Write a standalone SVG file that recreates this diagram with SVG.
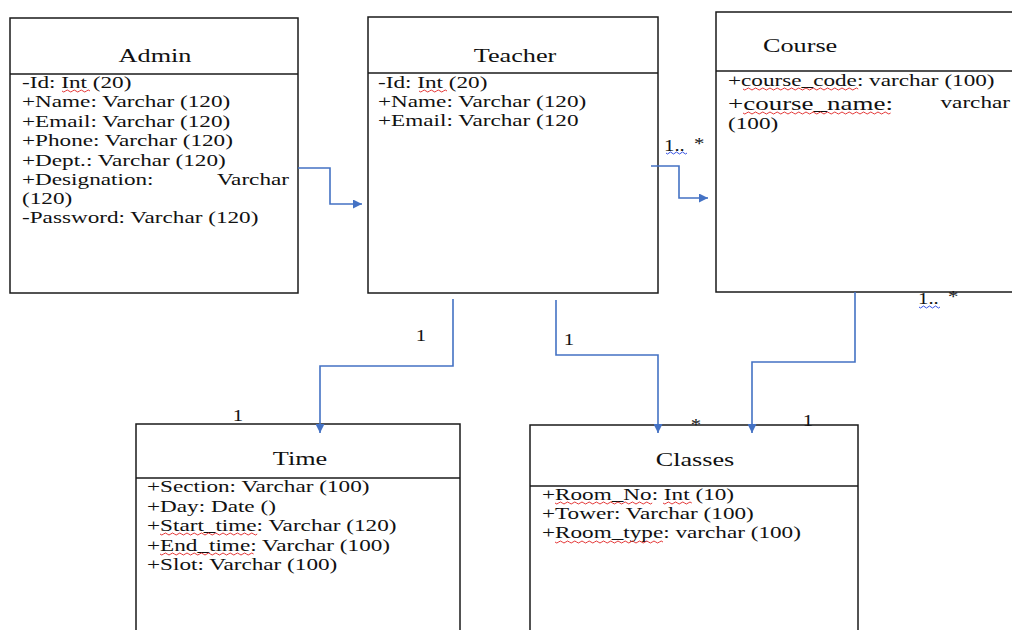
<svg xmlns="http://www.w3.org/2000/svg" width="1012" height="630" viewBox="0 0 1012 630">
  <style>
    .box { fill: #ffffff; stroke: #1a1a1a; stroke-width: 1.5; }
    .div { stroke: #1a1a1a; stroke-width: 1.5; }
    .t { font-family: "Liberation Serif", "Times New Roman", serif; fill: #111111; }
    .ttl { font-size: 19px; text-anchor: middle; }
    .att { font-size: 16px; }
    .lbl { font-size: 16px; text-anchor: middle; }
    .conn { fill: none; stroke: #4472C4; stroke-width: 1.6; marker-end: url(#arrow); }
    .sq { fill: none; stroke: #e02020; stroke-width: 0.9; }
    .sqb { fill: none; stroke: #2040e0; stroke-width: 0.9; }
  </style>
  <defs>
    <marker id="arrow" viewBox="0 0 10 10" refX="10" refY="5" markerWidth="9" markerHeight="9" markerUnits="userSpaceOnUse" orient="auto">
      <path d="M0,0 L10,5 L0,10 z" fill="#4472C4"/>
    </marker>
  </defs>
  <rect width="1012" height="630" fill="#ffffff"/>

  <g id="admin">
    <rect class="box" x="10" y="18" width="288" height="275"/>
    <line class="div" x1="10" y1="74" x2="298" y2="74"/>
    <text class="t ttl" transform="translate(155,62) scale(1.38,1)">Admin</text>
    <text class="t att" transform="translate(22,88) scale(1.45,1)">-Id: Int (20)</text>
    <text class="t att" transform="translate(22,107) scale(1.45,1)">+Name: Varchar (120)</text>
    <text class="t att" transform="translate(22,127) scale(1.45,1)">+Email: Varchar (120)</text>
    <text class="t att" transform="translate(22,146) scale(1.45,1)">+Phone: Varchar (120)</text>
    <text class="t att" transform="translate(22,166) scale(1.45,1)">+Dept.: Varchar (120)</text>
    <text class="t att" transform="translate(22,185) scale(1.45,1)">+Designation:</text>
    <text class="t att" text-anchor="end" transform="translate(289,185) scale(1.45,1)">Varchar</text>
    <text class="t att" transform="translate(22,204) scale(1.45,1)">(120)</text>
    <text class="t att" transform="translate(22,223) scale(1.45,1)">-Password: Varchar (120)</text>
    <path class="sq" d="M62,91 q1.75,2 3.5,0 t3.5,0 t3.5,0 t3.5,0 t3.5,0 t3.5,0 t3.5,0 t3.5,0"/>
  </g>

  <g id="teacher">
    <rect class="box" x="368" y="17" width="290" height="276"/>
    <line class="div" x1="368" y1="73" x2="658" y2="73"/>
    <text class="t ttl" transform="translate(515,62) scale(1.38,1)">Teacher</text>
    <text class="t att" transform="translate(378,88) scale(1.45,1)">-Id: Int (20)</text>
    <text class="t att" transform="translate(378,107) scale(1.45,1)">+Name: Varchar (120)</text>
    <text class="t att" transform="translate(378,126) scale(1.45,1)">+Email: Varchar (120</text>
    <path class="sq" d="M419,91 q1.75,2 3.5,0 t3.5,0 t3.5,0 t3.5,0 t3.5,0 t3.5,0 t3.5,0 t3.5,0"/>
  </g>

  <g id="course">
    <rect class="box" x="716" y="12" width="310" height="280"/>
    <line class="div" x1="716" y1="71" x2="1026" y2="71"/>
    <text class="t" font-size="19" transform="translate(763,52) scale(1.38,1)">Course</text>
    <text class="t att" transform="translate(728,86) scale(1.45,1)">+course_code: varchar (100)</text>
    <text class="t" font-size="18.6" transform="translate(728,110) scale(1.45,1)">+course_name:</text>
    <text class="t" font-size="16" text-anchor="end" transform="translate(1010,108) scale(1.45,1)">varchar</text>
    <text class="t att" transform="translate(728,129) scale(1.45,1)">(100)</text>
    <path class="sq" d="M743,89 q1.8,2 3.6,0 t3.6,0 t3.6,0 t3.6,0 t3.6,0 t3.6,0 t3.6,0 t3.6,0 t3.6,0 t3.6,0 t3.6,0 t3.6,0 t3.6,0 t3.6,0 t3.6,0 t3.6,0 t3.6,0 t3.6,0 t3.6,0 t3.6,0 t3.6,0 t3.6,0 t3.6,0 t3.6,0 t3.6,0 t3.6,0 t3.6,0 t3.6,0 t3.6,0 t3.6,0 t3.6,0 t3.6,0"/>
    <path class="sq" d="M743,113 q1.8,2 3.6,0 t3.6,0 t3.6,0 t3.6,0 t3.6,0 t3.6,0 t3.6,0 t3.6,0 t3.6,0 t3.6,0 t3.6,0 t3.6,0 t3.6,0 t3.6,0 t3.6,0 t3.6,0 t3.6,0 t3.6,0 t3.6,0 t3.6,0 t3.6,0 t3.6,0 t3.6,0 t3.6,0 t3.6,0 t3.6,0 t3.6,0 t3.6,0 t3.6,0 t3.6,0 t3.6,0 t3.6,0 t3.6,0 t3.6,0 t3.6,0 t3.6,0 t3.6,0 t3.6,0 t3.6,0 t3.6,0 t3.6,0"/>
  </g>

  <g id="time">
    <rect class="box" x="136" y="424" width="324" height="220"/>
    <line class="div" x1="136" y1="478" x2="460" y2="478"/>
    <text class="t ttl" transform="translate(300,465) scale(1.38,1)">Time</text>
    <text class="t att" transform="translate(147,492) scale(1.45,1)">+Section: Varchar (100)</text>
    <text class="t att" transform="translate(147,511.5) scale(1.45,1)">+Day: Date ()</text>
    <text class="t att" transform="translate(147,531) scale(1.45,1)">+Start_time: Varchar (120)</text>
    <text class="t att" transform="translate(147,550.5) scale(1.45,1)">+End_time: Varchar (100)</text>
    <text class="t att" transform="translate(147,570) scale(1.45,1)">+Slot: Varchar (100)</text>
    <path class="sq" d="M160,534 q1.8,2 3.6,0 t3.6,0 t3.6,0 t3.6,0 t3.6,0 t3.6,0 t3.6,0 t3.6,0 t3.6,0 t3.6,0 t3.6,0 t3.6,0 t3.6,0 t3.6,0 t3.6,0 t3.6,0 t3.6,0 t3.6,0 t3.6,0 t3.6,0 t3.6,0 t3.6,0 t3.6,0 t3.6,0 t3.6,0 t3.6,0 t3.6,0"/>
    <path class="sq" d="M160,554 q1.8,2 3.6,0 t3.6,0 t3.6,0 t3.6,0 t3.6,0 t3.6,0 t3.6,0 t3.6,0 t3.6,0 t3.6,0 t3.6,0 t3.6,0 t3.6,0 t3.6,0 t3.6,0 t3.6,0 t3.6,0 t3.6,0 t3.6,0 t3.6,0 t3.6,0 t3.6,0 t3.6,0 t3.6,0 t3.6,0 t3.6,0"/>
  </g>

  <g id="classes">
    <rect class="box" x="530" y="425" width="328" height="220"/>
    <line class="div" x1="530" y1="486" x2="858" y2="486"/>
    <text class="t ttl" transform="translate(695,466) scale(1.38,1)">Classes</text>
    <text class="t att" transform="translate(542,500) scale(1.45,1)">+Room_No: Int (10)</text>
    <text class="t att" transform="translate(542,519) scale(1.45,1)">+Tower: Varchar (100)</text>
    <text class="t att" transform="translate(542,538) scale(1.45,1)">+Room_type: varchar (100)</text>
    <path class="sq" d="M555,503 q1.8,2 3.6,0 t3.6,0 t3.6,0 t3.6,0 t3.6,0 t3.6,0 t3.6,0 t3.6,0 t3.6,0 t3.6,0 t3.6,0 t3.6,0 t3.6,0 t3.6,0 t3.6,0 t3.6,0 t3.6,0 t3.6,0 t3.6,0 t3.6,0 t3.6,0 t3.6,0 t3.6,0 t3.6,0 t3.6,0 t3.6,0 t3.6,0"/>
    <path class="sq" d="M663,503 q1.8,2 3.6,0 t3.6,0 t3.6,0 t3.6,0 t3.6,0 t3.6,0 t3.6,0 t3.6,0"/>
    <path class="sq" d="M555,542 q1.8,2 3.6,0 t3.6,0 t3.6,0 t3.6,0 t3.6,0 t3.6,0 t3.6,0 t3.6,0 t3.6,0 t3.6,0 t3.6,0 t3.6,0 t3.6,0 t3.6,0 t3.6,0 t3.6,0 t3.6,0 t3.6,0 t3.6,0 t3.6,0 t3.6,0 t3.6,0 t3.6,0 t3.6,0 t3.6,0 t3.6,0 t3.6,0 t3.6,0 t3.6,0 t3.6,0"/>
  </g>

  <g id="connectors">
    <path class="conn" d="M298,168 H330 V204 H362"/>
    <path class="conn" d="M651,166 H679 V198 H708"/>
    <path class="conn" d="M453,299 V366 H320 V433"/>
    <path class="conn" d="M556,300 V355 H658 V433"/>
    <path class="conn" d="M855,292 V362 H752 V433"/>
  </g>

  <g id="labels">
    <text class="t lbl" transform="translate(421,341) scale(1.3,1)">1</text>
    <text class="t lbl" transform="translate(569,345) scale(1.3,1)">1</text>
    <text class="t lbl" transform="translate(238,421) scale(1.3,1)">1</text>
    <text class="t lbl" transform="translate(696,430) scale(1.3,1)">*</text>
    <text class="t lbl" transform="translate(808,426) scale(1.3,1)">1</text>
    <text class="t att" transform="translate(664,151) scale(1.3,1)">1..</text>
    <text class="t att" transform="translate(694,149) scale(1.3,1)">*</text>
    <path class="sqb" d="M666,153 q1.5,2 3,0 t3,0 t3,0 t3,0 t3,0 t3,0 t3,0"/>
    <text class="t att" transform="translate(918,304) scale(1.3,1)">1..</text>
    <text class="t att" transform="translate(948,302) scale(1.3,1)">*</text>
    <path class="sqb" d="M919,307 q1.5,2 3,0 t3,0 t3,0 t3,0 t3,0 t3,0 t3,0"/>
  </g>
</svg>
